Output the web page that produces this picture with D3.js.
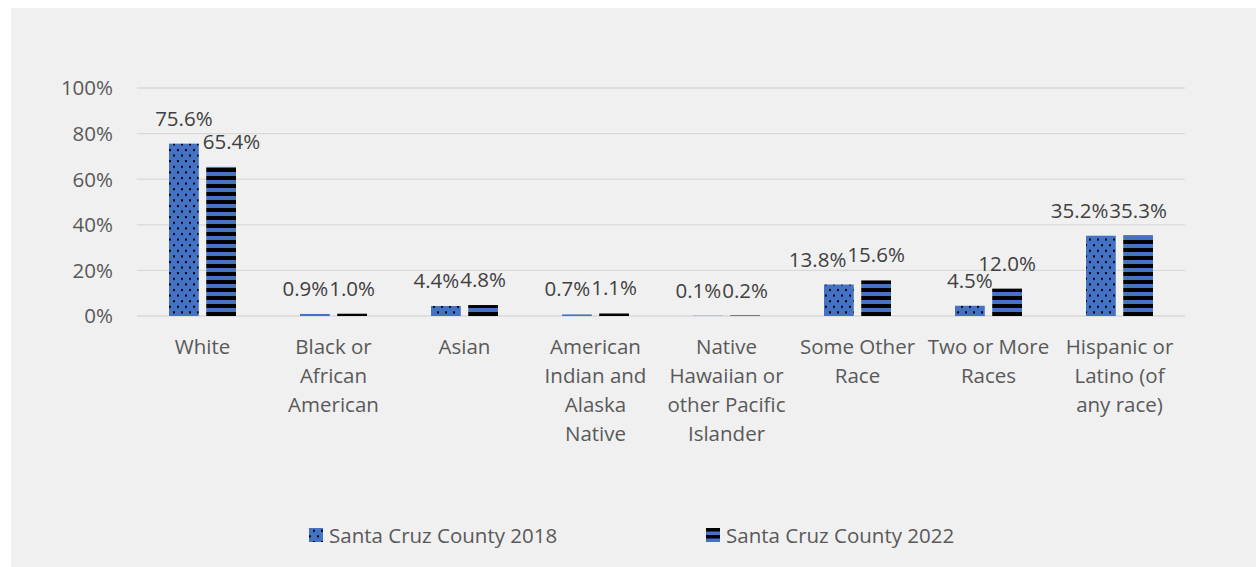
<!DOCTYPE html>
<html><head><meta charset="utf-8">
<script src="https://cdn.jsdelivr.net/npm/d3@7"></script>
<style>body{margin:0;background:#fff}svg{display:block}text{font-family:"Open Sans",sans-serif}</style>
</head><body><svg id="c" width="1256" height="567"></svg>
<script>
const categories = ["White","Black or African American","Asian","American Indian and Alaska Native","Native Hawaiian or other Pacific Islander","Some Other Race","Two or More Races","Hispanic or Latino (of any race)"];
const categoryLines = [["White"],["Black or","African","American"],["Asian"],["American","Indian and","Alaska","Native"],["Native","Hawaiian or","other Pacific","Islander"],["Some Other","Race"],["Two or More","Races"],["Hispanic or","Latino (of","any race)"]];
const seriesNames = ["Santa Cruz County 2018","Santa Cruz County 2022"];
const values2018 = [75.6,0.9,4.4,0.7,0.1,13.8,4.5,35.2];
const values2022 = [65.4,1.0,4.8,1.1,0.2,15.6,12.0,35.3];
const yTicks = [0,20,40,60,80,100];

const svg = d3.select("#c");
const W=1256,H=567;
const FS=20.5;
const blue="#4472c4", axisText="#595959", labelText="#404040", grid="#d9d9d9";
svg.append("rect").attr("x",11).attr("y",8).attr("width",W-11).attr("height",H-8).attr("fill","#f0f0f0");

const defs = svg.append("defs");
const pDots = defs.append("pattern").attr("id","dots").attr("patternUnits","userSpaceOnUse").attr("width",8).attr("height",11.2).attr("y",316);
pDots.append("rect").attr("width",8).attr("height",11.2).attr("fill",blue);
pDots.append("rect").attr("x",1).attr("y",1).attr("width",2).attr("height",2).attr("fill","#000");
pDots.append("rect").attr("x",5).attr("y",6.6).attr("width",2).attr("height",2).attr("fill","#000");
const pStr = defs.append("pattern").attr("id","stripes").attr("patternUnits","userSpaceOnUse").attr("width",8).attr("height",8).attr("y",316);
pStr.append("rect").attr("width",8).attr("height",8).attr("fill",blue);
pStr.append("rect").attr("y",4).attr("width",8).attr("height",4).attr("fill","#000");
const pLeg2 = defs.append("pattern").attr("id","legstripes").attr("patternUnits","userSpaceOnUse").attr("width",8).attr("height",7).attr("y",528);
pLeg2.append("rect").attr("width",8).attr("height",7).attr("fill",blue);
pLeg2.append("rect").attr("width",8).attr("height",3.5).attr("fill","#000");
const fills=["url(#dots)","url(#stripes)"];

const y = d3.scaleLinear().domain([0,100]).range([316,88]);
const x0 = d3.scaleBand().domain(categories).range([137,1185]).padding(0);
const x1 = d3.scaleBand().domain(seriesNames).range([0,x0.bandwidth()]).paddingInner(0.2).paddingOuter(0.86);

// grid
svg.append("g").selectAll("line").data(yTicks).join("line")
  .attr("x1",137).attr("x2",1185).attr("y1",d=>y(d)).attr("y2",d=>y(d))
  .attr("stroke",grid).attr("stroke-width",1.3);
svg.append("g").selectAll("text").data(yTicks).join("text")
  .attr("x",113).attr("y",d=>y(d)).attr("dy","0.36em").attr("text-anchor","end")
  .attr("font-size",FS).attr("fill",axisText).text(d=>d+"%");

const series=[values2018,values2022];
const data=[];
categories.forEach((c,i)=>series.forEach((s,j)=>data.push({c,i,j,v:s[i]})));

svg.append("g").selectAll("rect").data(data).join("rect")
  .attr("x",d=>x0(d.c)+x1(seriesNames[d.j]))
  .attr("width",x1.bandwidth())
  .attr("y",d=>y(d.v)).attr("height",d=>y(0)-y(d.v))
  .attr("fill",d=>fills[d.j]);

// data labels
const lab = svg.append("g").selectAll("text").data(data).join("text")
  .attr("text-anchor","middle").attr("font-size",FS).attr("fill",labelText)
  .attr("x",d=>x0(d.c)+x1(seriesNames[d.j])+x1.bandwidth()/2)
  .attr("y",d=>y(d.v)-18)
  .text(d=>d.v.toFixed(1)+"%");
// simple overlap avoidance (labels vs labels, labels vs taller neighbouring bar)
const nodes = lab.nodes();
for(let i=0;i<categories.length;i++){
  const a=nodes[2*i], b=nodes[2*i+1];
  const da=data[2*i], db=data[2*i+1];
  const wa=a.getComputedTextLength(), wb=b.getComputedTextLength();
  let xa=+a.getAttribute("x"), xb=+b.getAttribute("x");
  const ya=+a.getAttribute("y"), yb=+b.getAttribute("y");
  const capH=15;
  const barLeftRight = x0(da.c)+x1(seriesNames[0])+x1.bandwidth();
  if(da.v>db.v && y(da.v) < yb && xb-wb/2 < barLeftRight+4){
    xb = barLeftRight+4+wb/2; b.setAttribute("x",xb);
  }
  const vOverlap = !(ya < yb-capH || yb < ya-capH);
  const overlap = (xa+wa/2) - (xb-wb/2) + 1;
  if(vOverlap && overlap>0){
    if(da.v<=db.v) a.setAttribute("x", xa-overlap);
    else b.setAttribute("x", xb+overlap);
  }
}

// category labels
const cg = svg.append("g").selectAll("text").data(categories).join("text")
  .attr("text-anchor","middle").attr("font-size",FS).attr("fill",axisText)
  .attr("x",d=>x0(d)+x0.bandwidth()/2).attr("y",354);
cg.selectAll("tspan").data((d,i)=>categoryLines[i]).join("tspan")
  .attr("x",function(){return this.parentNode.getAttribute("x");})
  .attr("dy",(d,k)=>k===0?0:29).text(d=>d);

// legend
const legX=[309,706];
const lg = svg.append("g").selectAll("g").data(seriesNames).join("g");
lg.append("rect").attr("x",(d,i)=>legX[i]).attr("y",528).attr("width",14).attr("height",14)
  .attr("fill",(d,i)=>i===0?"url(#dots)":"url(#legstripes)");
lg.append("text").attr("x",(d,i)=>legX[i]+20).attr("y",543).attr("font-size",FS).attr("fill",axisText).text(d=>d);
</script></body></html>
